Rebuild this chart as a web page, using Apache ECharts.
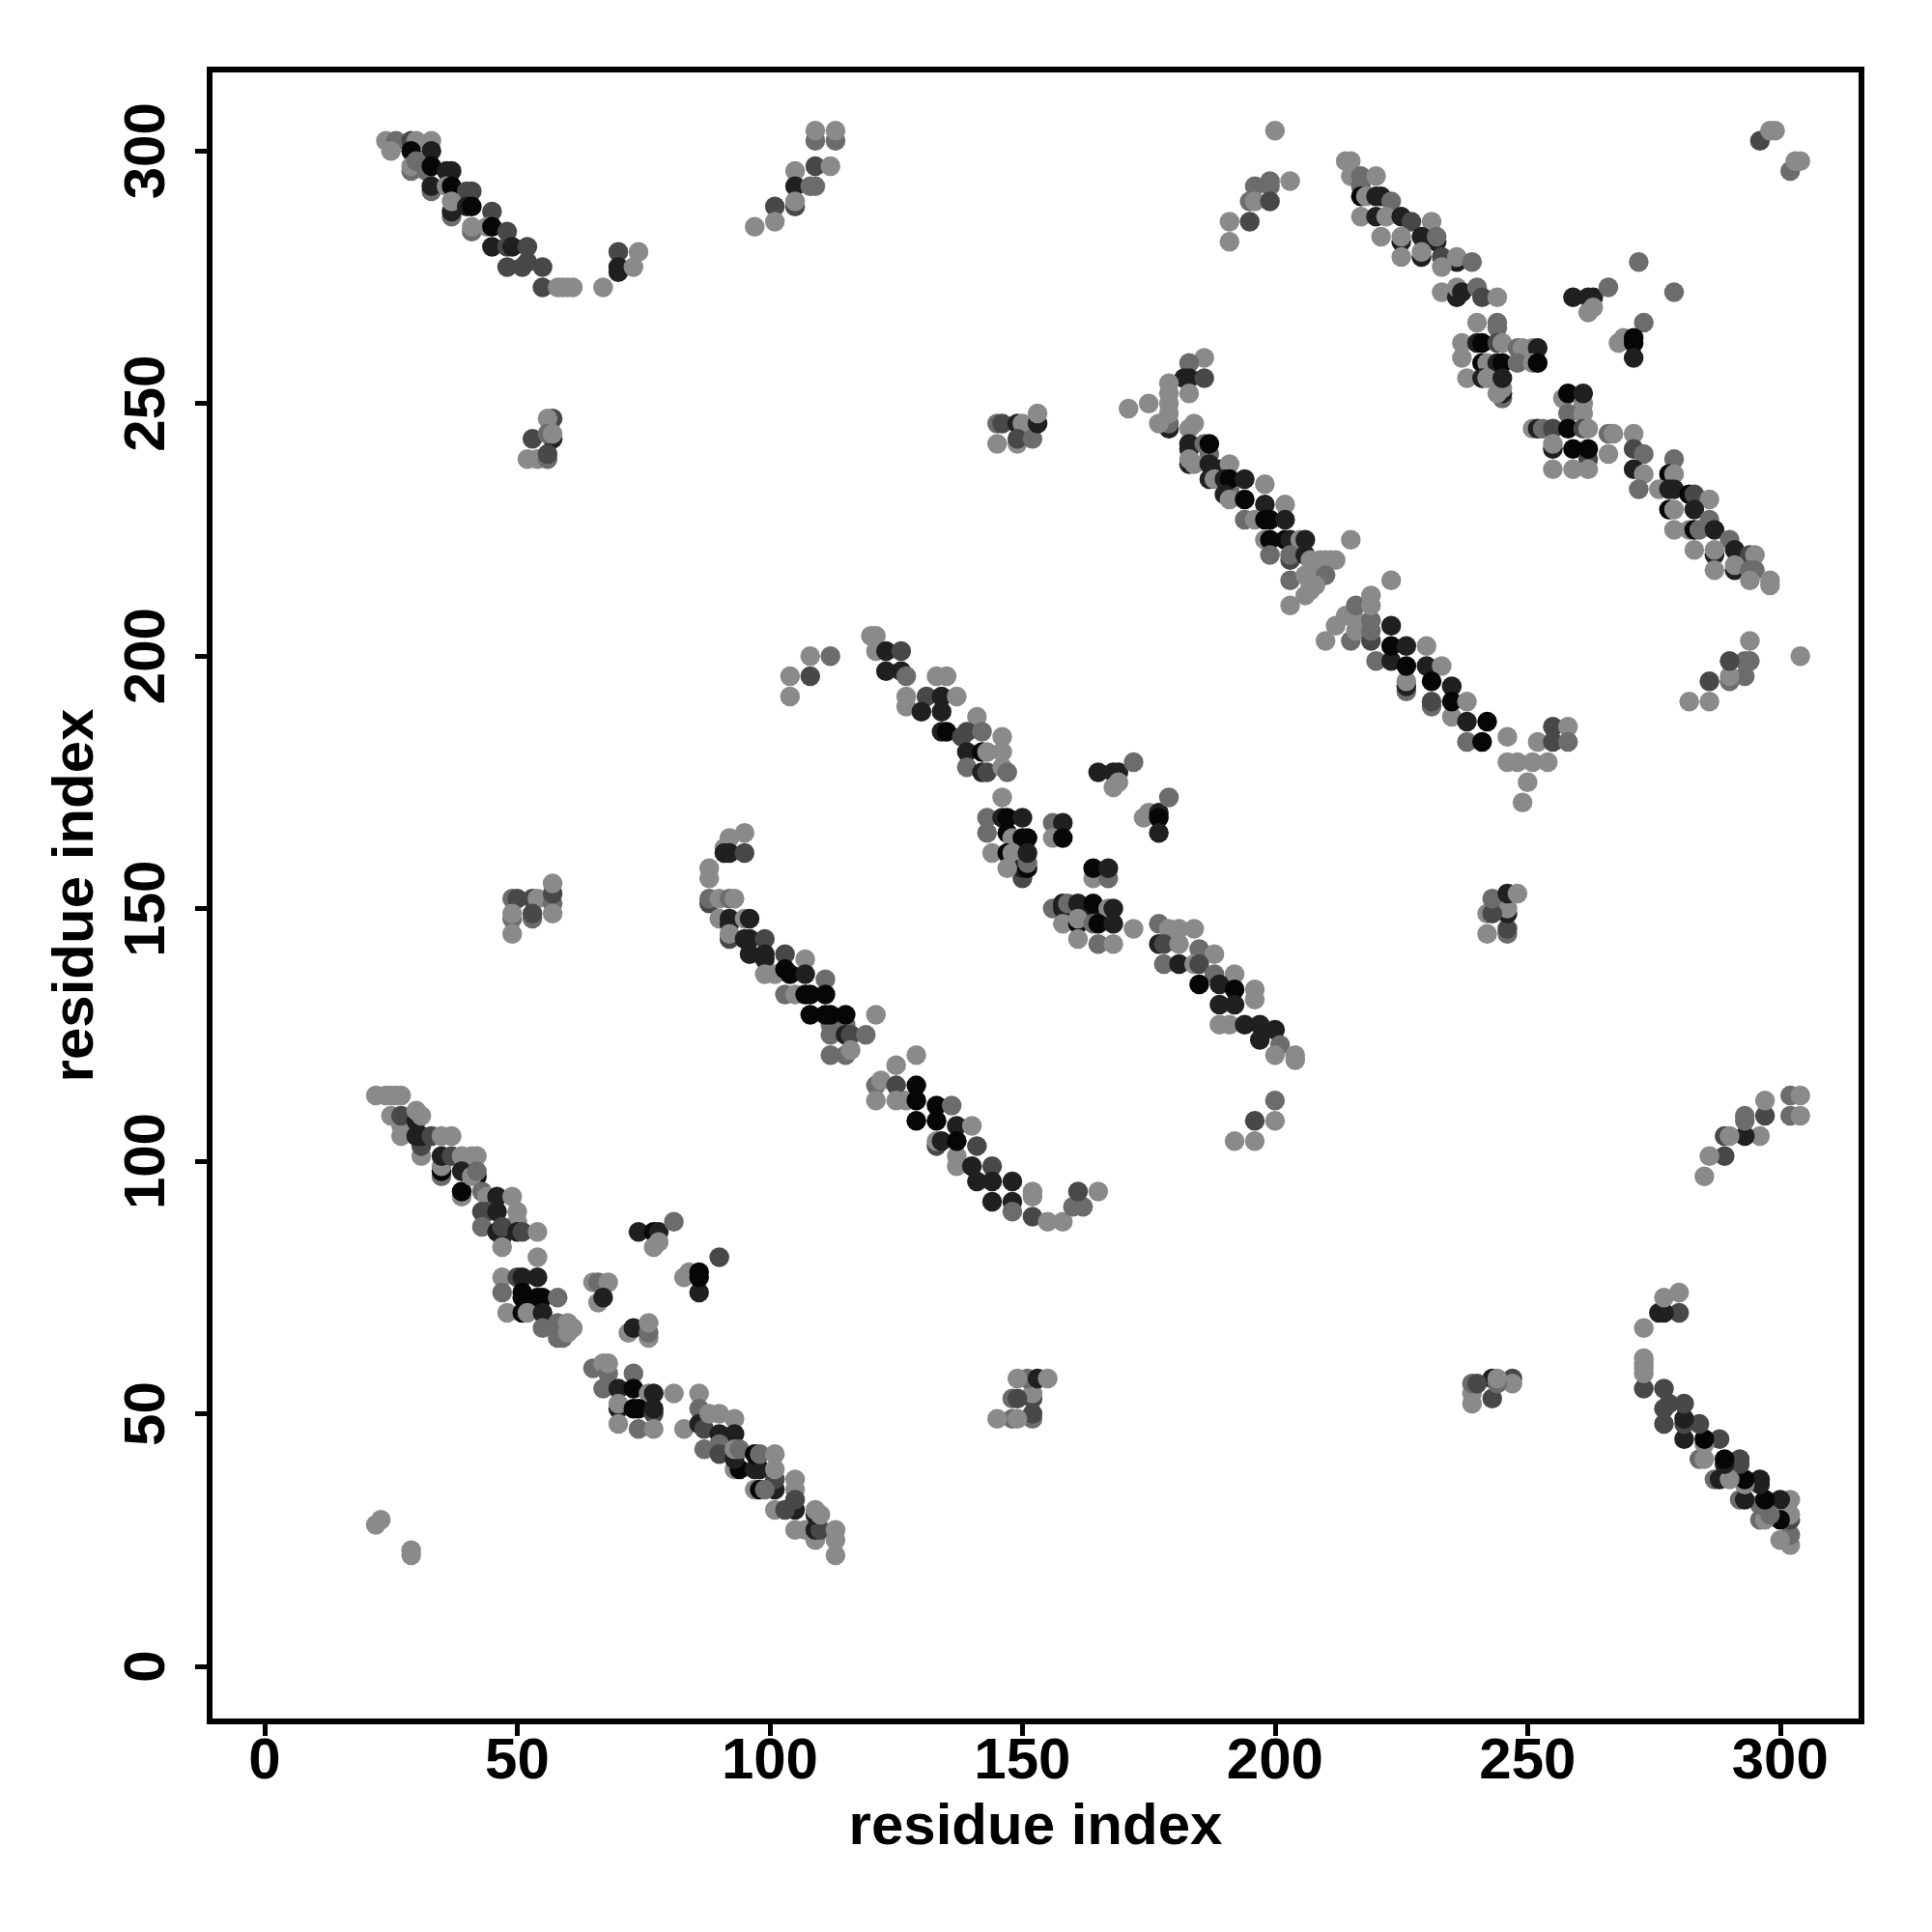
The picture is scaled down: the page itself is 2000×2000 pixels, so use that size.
<!DOCTYPE html>
<html><head><meta charset="utf-8">
<style>html,body{margin:0;padding:0;background:#fff}#c{width:2000px;height:2000px}</style>
<script src="https://cdn.jsdelivr.net/npm/echarts@6/dist/echarts.min.js"></script>
</head><body><div id="c"></div>
<script>
// each point: [residue i, residue j, shade code]
const tickLabels=[0,50,100,150,200,250,300];
const shadeColors={1:'#060606',2:'#202020',3:'#484848',4:'#6c6c6c',5:'#8a8a8a'};
const bandA=[[22,113,5],[24,113,5],[25,113,5],[26,113,5],[27,113,5],[25,109,5],[27,105,5],[27,107,5],[27,109,3],[30,108,2],[30,110,5],[31,109,5],
[31,101,5],[31,103,3],[30,105,2],[31,105,2],[33,105,3],[35,105,5],[37,105,5],
[35,97,4],[35,98,1],[35,99,5],[35,101,2],[37,101,3],[39,101,5],[41,101,5],[42,101,5],
[39,93,5],[39,94,1],[39,98,2],[42,97,1],[41,97,5],[42,98,4],[43,94,4],[44,93,5],[46,93,2],[49,93,5],
[43,90,3],[44,90,3],[46,90,2],[50,90,5],[50,88,5],[43,87,4],[47,85,2],[46,86,2],[47,87,3],[50,86,2],[51,86,3],[54,86,5],[47,83,5],[54,81,5],
[47,77,5],[50,77,3],[51,77,2],[54,77,2],[47,74,4],[51,73,1],[51,74,1],[54,73,1],[55,73,1],[58,73,4],[48,70,5],[51,70,1],[52,70,5],[55,70,2],
[55,67,4],[58,68,4],[58,65,4],[59,65,4],[60,66,5],[60,68,5],[61,67,5],
[65,76,5],[66,76,4],[68,76,5],[66,72,5],[67,73,2],[72,66,5],[73,67,2],[76,65,5],[76,66,4],[76,68,5],
[74,86,2],[77,86,1],[78,86,2],[81,88,4],[77,83,5],[78,84,5],[83,77,5],[84,78,5],[86,74,2],[86,77,1],[86,78,1],[90,81,3],
[65,59,4],[67,60,5],[68,58,4],[68,60,5],[67,55,4],[70,55,2],[73,58,4],[73,55,1],[76,54,5],[77,54,2],[81,54,5],[86,54,5],
[70,51,2],[70,52,5],[73,51,1],[74,51,1],[77,50,3],[77,51,2],[70,48,5],[74,47,4],[77,47,5],[83,47,5],
[86,51,4],[86,48,2],[87,47,3],[88,50,5],[90,50,5],[93,49,5],[90,46,2],[93,46,2],[87,43,4],[90,44,4],[90,42,3],[93,39,5],[94,39,1],[93,41,2],[93,43,5],[94,43,4],
[97,39,2],[98,39,2],[97,42,1],[98,42,4],[101,35,2],[101,37,3],[101,39,5],[101,42,5],[97,35,5],[98,35,1],[99,35,4],
[105,37,5],[105,35,5],[105,31,2],[105,33,3],[101,31,5],[103,31,3],[105,27,5],[107,27,5],[109,25,5],[109,27,2],[110,27,3],[109,30,2],[109,31,5],[110,30,5],[113,22,5],[113,25,5],[113,27,5]];
const bandB=[[95,165,5],[92,164,5],[91,162,5],[91,161,2],[92,161,2],[95,161,3],[88,158,5],[88,156,5],[88,151,3],[88,152,4],[90,152,5],[92,152,4],[93,152,5],
[90,148,5],[92,147,2],[92,148,2],[95,148,5],[96,148,2],[92,144,3],[92,145,5],[95,144,2],[96,144,2],[99,144,3],[96,141,2],[99,140,2],[99,141,2],[103,141,3],[107,140,5],
[99,137,5],[101,137,5],[103,138,1],[104,137,1],[107,137,2],[111,136,4],[103,133,4],[105,133,5],[107,133,1],[108,133,1],[111,133,1],
[112,127,4],[115,127,4],[108,129,1],[111,129,1],[112,129,1],[115,129,1],[121,129,5],[112,125,4],[115,125,2],[116,125,3],[119,125,4],[112,121,4],[115,121,4],[116,122,5],
[129,121,5],[125,119,5],[121,115,4],[122,116,5],[121,112,5],[125,115,3],[125,112,5],[127,112,5],[129,115,1],[129,112,1],[129,108,1],
[133,111,1],[136,111,4],[133,108,1],[137,107,2],[140,107,5],[133,103,3],[133,104,5],[134,104,2],[137,101,5],[137,99,5],[137,104,1],[141,103,3],
[140,99,2],[144,99,3],[141,96,2],[144,96,2],[148,96,2],[152,94,5],[144,92,2],[148,92,2],[148,90,4],[152,89,3],[152,93,5],[155,88,5],[158,88,5],[160,91,4],[162,91,4],[161,94,3],[165,94,5]];
const bandC=[[120,204,5],[121,204,5],[121,201,5],[123,201,2],[126,201,3],[123,197,2],[126,197,2],[127,196,4],[127,190,5],[127,192,5],[131,192,3],[134,192,2],[133,196,5],[135,196,5],[137,192,5],
[130,189,2],[134,189,2],[134,185,2],[135,185,1],[141,188,5],[138,184,3],[139,185,3],[142,185,4],[146,184,5],
[139,181,2],[142,181,1],[143,181,5],[146,181,5],[139,178,4],[142,177,2],[143,177,3],[146,178,5],[147,177,4],[146,172,5],
[143,168,4],[146,168,2],[147,168,1],[150,168,2],[143,165,4],[147,165,1],[148,164,5],[150,164,1],[151,164,1],
[144,161,5],[147,161,1],[148,161,5],[150,156,3],[150,158,2],[151,158,1],[151,159,4],[151,161,2],[147,158,5],
[156,167,4],[158,167,2],[156,164,5],[158,164,1],[165,177,2],[168,177,2],[169,177,2],[172,179,4],[169,175,5],[168,174,5],
[174,168,5],[175,169,5],[177,169,2],[177,168,1],[177,165,2],[179,172,4],
[164,156,5],[167,156,4],[164,158,1],[167,158,2],
[156,150,4],[158,150,2],[158,151,2],[159,151,4],[161,151,2],[164,149,2],[164,151,1],[167,150,5],[168,150,2],[158,147,5],[161,147,1],[161,148,5],[164,147,4],[165,147,1],[168,147,2],[172,146,5],
[161,144,5],[165,143,4],[168,143,5],[177,147,4],[179,146,5],[181,146,5],[184,146,5],[177,143,2],[178,143,3],[181,143,5],[185,142,4],[188,141,5],
[178,139,4],[181,139,2],[184,139,5],[185,139,3],[188,137,4],[192,137,5],[185,135,1],[189,135,2],[192,134,1],[196,134,5],[196,132,5],
[189,131,2],[192,131,2],[189,127,5],[191,127,5],[194,127,2],[197,127,2],[200,126,2],[197,124,2],[201,123,4],[200,121,5],[204,121,5],[204,120,5]];
const bandD=[[186,259,5],[183,258,4],[182,255,2],[183,255,2],[186,255,3],[183,252,5],[179,245,2],[179,246,4],[179,248,5],[179,250,5],[179,252,5],[179,254,5],
[171,249,5],[175,250,5],[177,246,5],[183,245,5],[184,246,5],[183,241,2],[183,242,2],[186,242,4],[187,240,4],[187,242,1],
[183,238,2],[183,239,5],[184,238,5],[187,238,2],[189,237,2],[191,238,5],[187,235,2],[188,235,5],[190,235,2],[191,233,4],[191,235,1],[194,235,2],[198,234,5],
[190,232,2],[191,231,5],[194,231,1],[198,230,2],[202,230,5],[194,227,4],[196,227,5],[198,227,1],[199,227,1],[202,227,2],
[198,223,5],[199,223,1],[202,223,1],[203,223,2],[205,223,5],[206,223,2],[215,223,5],[199,220,4],[203,219,3],[203,220,4],[206,220,2],
[207,219,5],[209,219,5],[210,219,5],[211,219,5],[212,219,5],[203,215,4],[206,216,5],[208,216,5],[210,216,4],[207,214,5],[208,214,5],[207,213,5],[206,212,5],[203,210,5],[223,215,5],
[210,203,5],[215,203,4],[212,206,5],[214,208,5],[216,207,5],[216,205,5],[216,210,4],[219,203,3],[219,205,4],[219,207,4],[219,210,5],[219,212,5],[220,199,4],
[223,206,2],[223,199,2],[223,202,1],[226,202,2],[230,202,5],[226,193,4],[226,194,2],[226,195,5],[226,198,1],[230,198,2],[233,198,5],
[231,195,1],[235,194,2],[231,190,4],[231,191,3],[235,188,5],[235,191,1],[238,191,5],[238,187,2],[242,187,1],[238,183,4],[241,183,1],[246,184,5],
[246,179,5],[248,179,5],[251,179,5],[254,179,5],[252,183,5],[255,183,3],[255,186,3],[258,186,5],[258,183,4],[250,175,5],[249,171,5]];
const bandE=[[214,298,5],[215,298,5],[215,295,5],[217,293,4],[217,295,4],[220,295,5],[217,291,1],[218,291,5],[220,291,2],[221,291,2],[223,290,4],
[217,287,5],[220,287,2],[222,287,5],[225,287,2],[227,286,3],[231,286,5],[221,283,5],[225,282,2],[225,283,5],[229,283,2],[232,282,2],[232,283,4],
[229,279,2],[229,280,5],[225,279,5],[233,279,3],[236,278,2],[236,279,5],[239,278,4],[233,277,5],
[233,272,5],[236,271,2],[236,273,5],[237,272,2],[240,273,4],[241,271,3],[244,271,5],[240,266,5],[244,265,4],[244,266,4],
[237,262,5],[240,262,2],[241,262,1],[244,262,3],[245,262,5],[248,261,4],[249,261,5],[251,261,5],[252,261,2],
[237,259,5],[241,258,1],[242,258,5],[244,258,2],[245,258,1],[248,258,4],[251,258,5],[252,258,1],
[238,255,5],[241,255,2],[242,255,5],[245,251,4],[245,252,2],[244,252,5],[245,253,5],[245,255,2],
[259,271,2],[262,271,2],[263,271,2],[266,273,4],[262,268,5],[263,269,5],[272,278,4],[279,272,4],[273,266,4],[268,262,5],[269,263,5],[271,263,1],[271,262,1],[271,259,2],
[257,251,5],[258,252,1],[261,250,5],[261,252,2],[258,248,4],[261,248,5],
[251,245,5],[252,245,2],[253,245,4],[255,245,3],[258,245,1],[261,245,3],[262,245,5],[266,244,4],[267,244,5],
[255,241,2],[255,242,5],[259,241,1],[262,239,3],[262,241,1],[266,240,5],[255,237,5],[259,237,5],[262,237,5],
[271,244,5],[271,241,3],[273,240,4],[271,237,2],[273,236,5],[272,233,4],
[279,239,4],[278,236,1],[279,236,5],[276,233,5],[278,233,2],[279,233,2],[278,229,1],[279,229,5],[282,232,1],[283,232,3],[286,231,5],[283,229,2],
[279,225,5],[282,225,5],[283,225,1],[284,225,4],[286,227,4],[287,225,2],[290,223,4],
[283,221,5],[287,220,2],[287,221,5],[291,221,2],[294,220,3],[295,220,5],
[287,217,5],[291,217,2],[291,218,5],[294,217,4],[295,217,4],[294,215,5],[298,215,5],[298,214,5]];
const cornerF=[[24,302,5],[26,302,4],[25,300,5],[29,302,3],[30,302,5],[33,302,5],[29,300,1],[33,300,2],[29,296,4],[29,297,5],[30,298,4],[32,296,4],[33,297,1],
[36,296,2],[37,296,2],[33,292,4],[33,293,2],[36,293,5],[37,293,1],[40,292,3],[41,292,3],[37,287,4],[37,288,2],[37,290,5],[40,289,2],[41,289,1],[45,288,3],
[41,284,4],[41,285,5],[44,285,5],[45,285,1],[48,284,3],[45,281,2],[48,281,3],[49,281,2],[52,281,3],[48,277,3],[51,277,3],[52,278,3],[55,277,3],
[55,273,3],[58,273,5],[59,273,5],[60,273,5],[61,273,5],[67,273,5],[70,280,3],[74,280,5],[70,276,2],[70,277,2],[73,277,5]];
const cornerFLower=[[302,24,5],[302,26,4],[300,25,5],[302,29,3],[302,30,5],[302,33,5],[300,29,1],[300,33,2],[296,29,4],[297,29,5],[298,30,4],[296,32,4],[297,33,1],
[296,36,2],[296,37,2],[292,33,4],[293,33,2],[293,36,5],[293,37,1],[292,40,3],[292,41,3],[287,37,4],[288,37,2],[290,37,5],[289,40,2],[289,41,1],[288,45,3],
[284,41,4],[285,41,5],[285,44,5],[285,45,1],[284,48,3],[281,45,2],[281,48,3],[281,49,2],[281,52,3],[277,48,3],[277,51,3],[278,52,3],[277,55,3],
[273,55,3],[273,58,5],[273,59,5],[273,60,5],[273,61,5],[273,67,5],[280,70,3],[280,74,5],[276,70,2],[277,70,2],[277,73,5]];
const topOne=[[109,302,4],[109,304,5],[113,302,4],[113,304,5],[109,297,3],[112,297,5],[105,296,5],[105,293,2],[108,293,4],[109,293,4],[105,289,3],[105,290,5],[101,289,3],[101,286,5],[97,285,5]];
const topOneLower=[[302,109,4],[304,109,5],[302,113,4],[304,113,5],[297,109,3],[297,112,5],[296,105,5],[293,105,2],[293,108,4],[293,109,4],[289,105,3],[290,105,5],[289,101,3],[286,101,5],[285,97,5]];
const topTwo=[[200,304,5],[196,293,4],[199,293,4],[199,294,4],[203,294,5],[195,290,4],[196,290,5],[199,290,3],[191,286,5],[195,286,3],[191,282,5]];
const topTwoLower=[[304,200,5],[293,196,4],[293,199,4],[294,199,4],[294,203,5],[290,195,4],[290,196,5],[290,199,3],[286,191,5],[286,195,3],[282,191,5]];
const blobOne=[[57,247,3],[56,247,5],[53,243,3],[57,243,2],[56,244,4],[57,244,5],[52,239,5],[54,239,5],[56,239,4],[56,240,3]];
const blobOneLower=[[247,57,3],[247,56,5],[243,53,3],[243,57,2],[244,56,4],[244,57,5],[239,52,5],[239,54,5],[239,56,4],[240,56,3]];
const blobTwo=[[145,246,4],[146,246,3],[145,242,5],[149,246,2],[150,246,5],[149,242,5],[149,243,3],[152,243,4],[153,246,2],[153,248,5]];
const blobTwoLower=[[246,145,4],[246,146,3],[242,145,5],[246,149,2],[246,150,5],[242,149,5],[243,149,3],[243,152,4],[246,153,2],[248,153,5]];
const blobThree=[[49,152,4],[50,152,3],[49,148,4],[49,149,5],[49,145,5],[53,152,3],[54,152,5],[53,148,4],[53,149,3],[57,151,4],[57,153,3],[57,155,5],[57,149,5]];
const blobThreeLower=[[152,49,4],[152,50,3],[148,49,4],[149,49,5],[145,49,5],[152,53,3],[152,54,5],[148,53,4],[149,53,3],[151,57,4],[153,57,2],[155,57,5],[149,57,5]];
const sideBlob=[[104,192,5],[104,196,5],[108,196,3],[108,200,5],[112,200,4]];
const sideBlobLower=[[192,104,5],[196,104,5],[196,108,3],[200,108,5],[200,112,4]];
const corners=[[22,28,5],[23,29,5],[29,22,5],[29,23,5],[296,302,3],[298,304,5],[299,304,5],[302,296,4],[303,298,5],[304,298,5]];
const groups=[bandA,bandB,bandC,bandD,bandE,cornerF,cornerFLower,topOne,topOneLower,topTwo,topTwoLower,blobOne,blobOneLower,blobTwo,blobTwoLower,blobThree,blobThreeLower,sideBlob,sideBlobLower,corners];

const labelFont={fontFamily:'Liberation Sans',fontWeight:'bold',fontSize:60,color:'#000'};
function axis(extra){return Object.assign({type:'value',min:-10.9,max:316.1,name:'residue index',nameLocation:'middle',
  nameTextStyle:labelFont,splitLine:{show:false},
  axisLine:{show:false,onZero:false},
  axisTick:{show:true,inside:false,length:15,customValues:tickLabels,lineStyle:{color:'#000',width:5}}
},extra);}
const chart=echarts.init(document.getElementById('c'),null,{renderer:'canvas'});
chart.setOption({animation:false,backgroundColor:'#fff',
 grid:{left:217,top:72,width:1710,height:1710,show:true,borderColor:'#000',borderWidth:6,backgroundColor:'transparent',containLabel:false},
 xAxis:axis({nameGap:80,axisLabel:Object.assign({},labelFont,{margin:12,customValues:tickLabels})}),
 yAxis:axis({nameGap:108,axisLabel:Object.assign({},labelFont,{margin:34,rotate:90,customValues:tickLabels,align:'center',verticalAlign:'bottom'})}),
 series:groups.map(g=>({type:'scatter',data:g,symbol:'circle',symbolSize:20.5,silent:true,clip:false,
   itemStyle:{color:p=>shadeColors[p.data[2]],opacity:1}}))
});
</script></body></html>
